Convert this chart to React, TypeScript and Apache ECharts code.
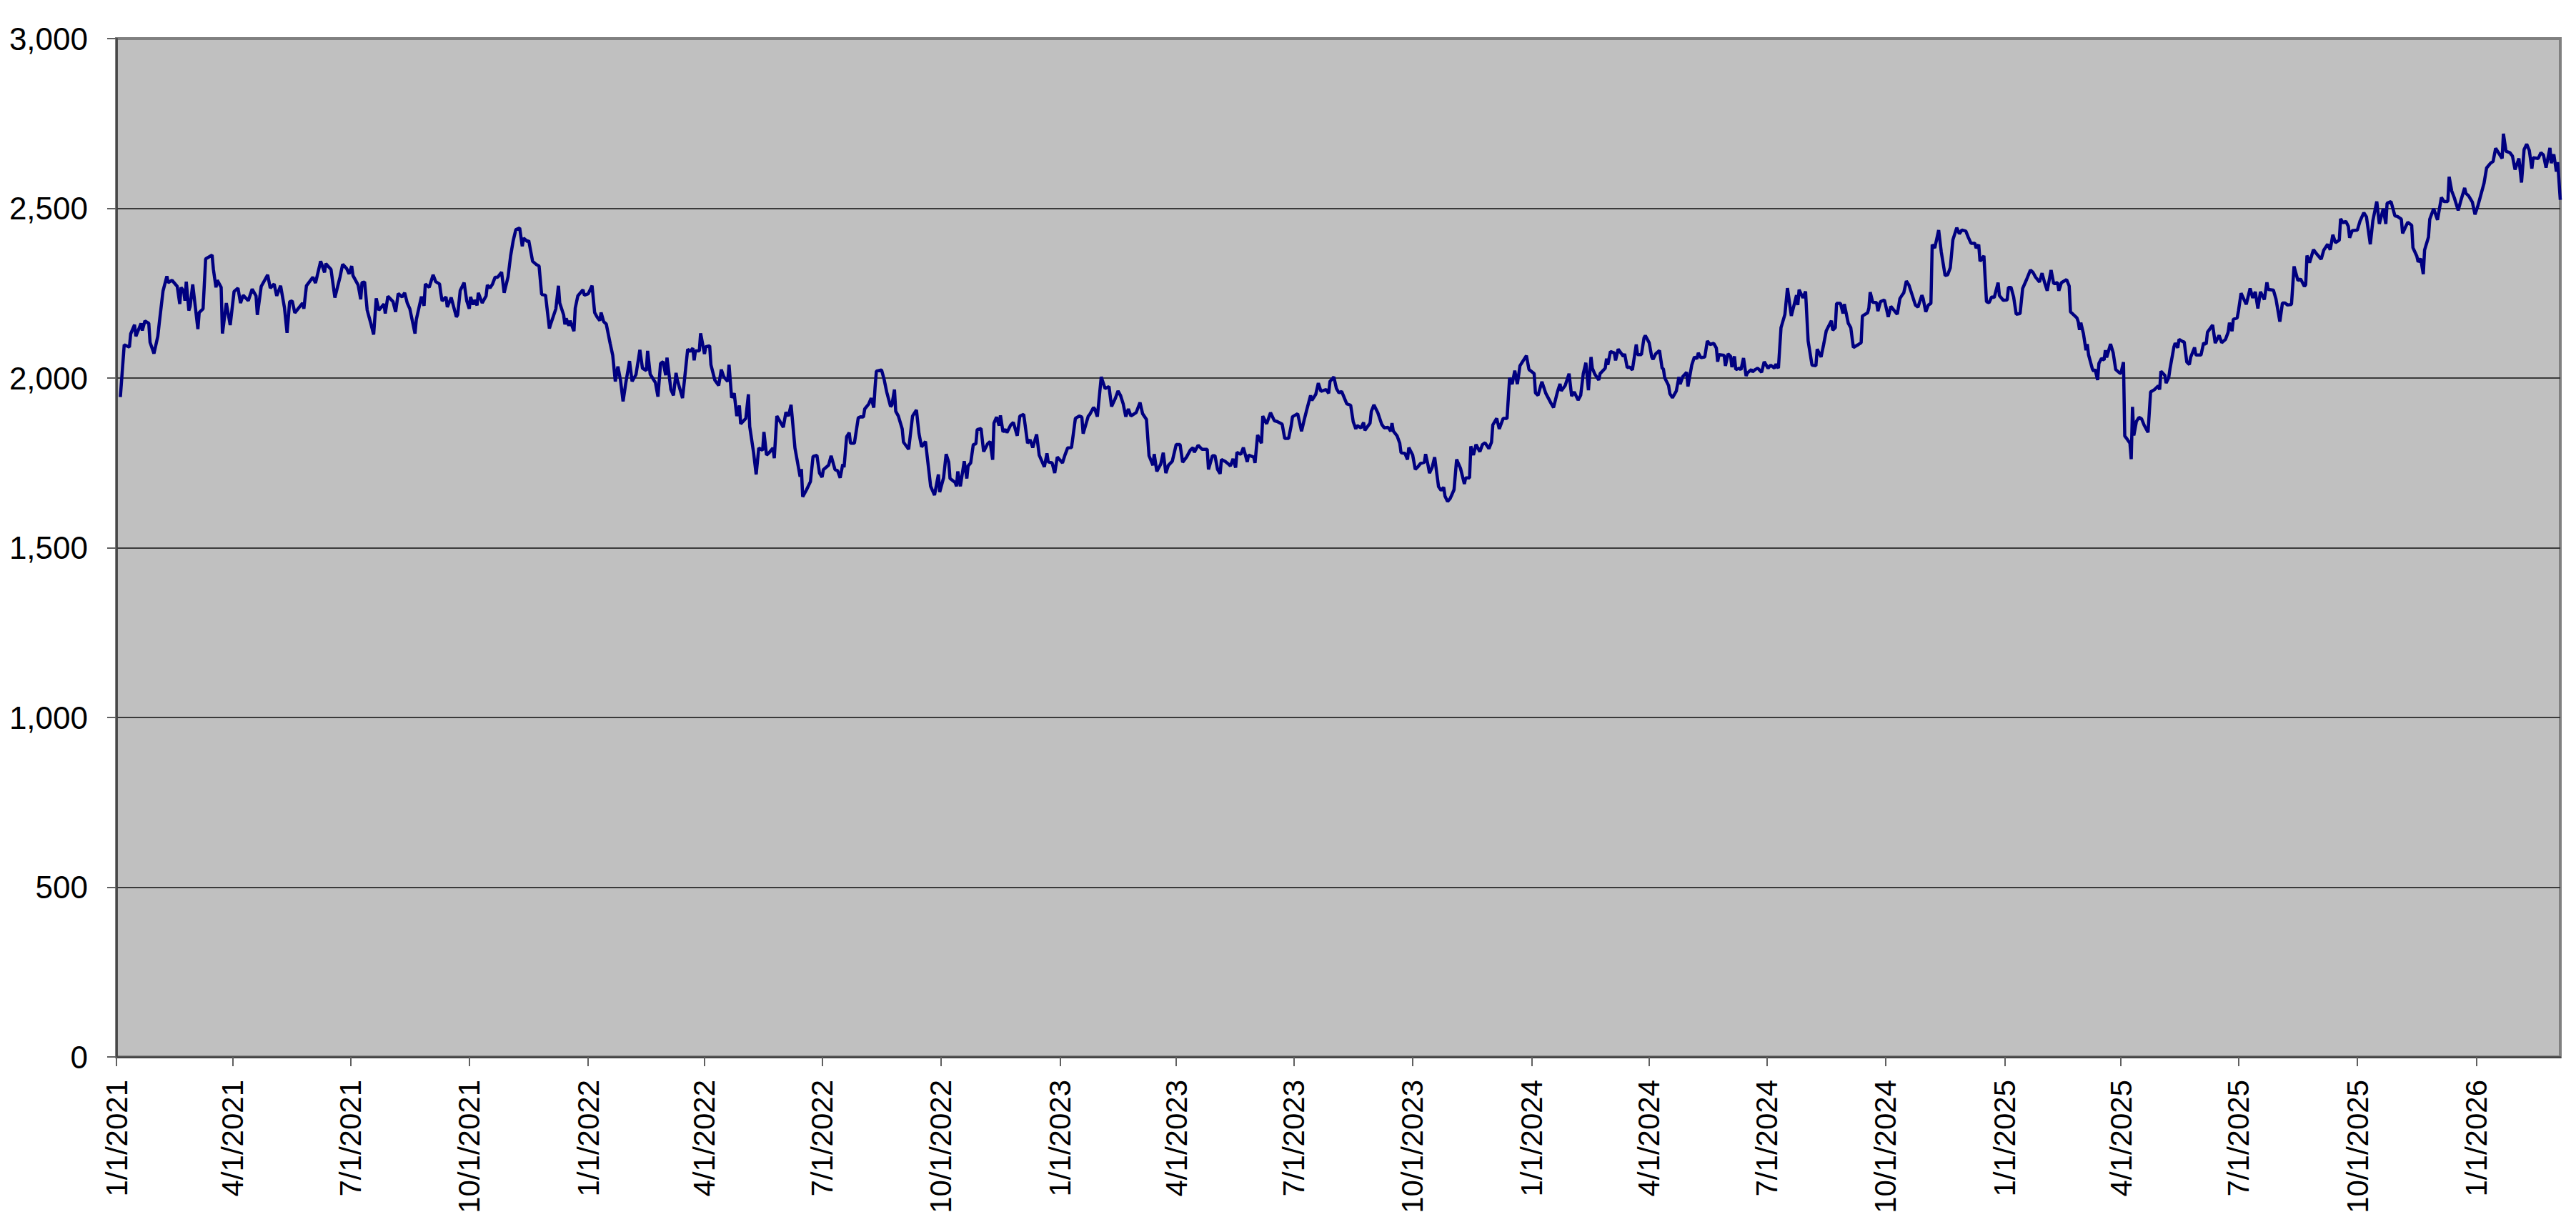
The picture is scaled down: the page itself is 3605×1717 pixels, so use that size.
import React, { useEffect, useRef } from "react";
import * as echarts from "echarts";

// Dates are day offsets from START_DATE.
const START_DATE = "2021-01-01";

const points2021: [number, number][] = [
  [3,1944],[6,2098],[10,2091],[11,2130],[14,2157],[15,2123],[19,2161],[20,2140],[22,2168],[25,2161],[26,2105],[29,2072],[32,2123],[33,2158],[36,2256],[39,2300],[40,2281],[43,2288],[47,2270],[49,2218],[50,2267],[52,2256],[53,2228],[54,2284],[56,2199],[57,2211],[59,2276],[63,2144],[64,2193],[67,2204],[69,2351],[74,2362],[75,2320],[77,2267],[78,2288],[81,2267],[82,2131],[85,2221],[88,2156],[91,2255],[94,2265],[96,2221],[98,2244],[102,2228],[105,2262],[108,2242],[109,2186],[112,2270],[117,2304],[119,2265],[122,2277],[124,2242],[127,2272],[130,2207],[132,2133],[134,2225],[136,2227],[138,2192],[144,2221],[145,2204],[147,2272],[152,2297],[154,2280],[158,2344],[161,2311],[162,2337],[166,2320],[169,2237],[173,2298],[175,2335],[178,2323],[180,2307],[182,2330],[183,2302],[187,2274],[189,2232],[190,2281],[192,2283],[194,2200],[197,2158],[199,2128],[201,2235],[203,2200],[207,2218],[208,2190],[210,2241],[214,2225],[216,2195],[218,2249],[221,2239],[223,2251],[225,2221],[227,2204],[231,2131],[232,2172],[236,2240],[238,2213],[239,2277],[242,2267],[245,2304],[247,2284],[250,2277],[251,2249],[252,2227],[255,2239],[256,2209],[259,2237],[263,2180],[264,2186],[266,2258],[269,2281],[271,2228],[273,2204],[274,2239],[276,2216],[277,2230],[279,2214],[280,2251],[283,2221],[286,2242],[287,2274],[289,2265],[291,2277],[293,2297],[295,2297],[298,2312],[300,2251],[303,2298],[305,2360],[307,2405],[309,2437],[312,2442],[314,2388],[315,2412],[318,2402],[319,2405],[322,2344],[325,2334],[327,2330],[329,2246],[332,2244],[335,2146],[336,2159],[340,2204],[342,2272],[343,2221],[346,2186],[347,2158],[348,2176],[350,2154],[351,2169],[354,2138],[355,2206],[357,2242],[361,2260],[362,2244]
];

const points2022: [number, number][] = [
  [365,2248],[368,2272],[370,2193],[372,2179],[374,2169],[375,2193],[377,2166],[379,2159],[382,2102],[384,2067],[386,1990],[388,2034],[390,1994],[392,1931],[394,1983],[397,2050],[399,1990],[402,2010],[405,2083],[407,2029],[410,2022],[411,2080],[413,2011],[417,1987],[419,1945],[421,2043],[423,2048],[425,2008],[426,2060],[429,1966],[431,1949],[433,2015],[434,1994],[438,1941],[439,1976],[442,2085],[444,2078],[446,2088],[447,2052],[448,2080],[451,2080],[452,2132],[455,2071],[456,2092],[459,2095],[460,2039],[463,1994],[466,1978],[468,2025],[470,2003],[473,1990],[474,2039],[476,1942],[478,1955],[480,1888],[482,1919],[483,1865],[487,1881],[489,1952],[490,1857],[493,1780],[495,1716],[497,1794],[500,1787],[501,1841],[503,1773],[505,1780],[508,1794],[509,1764],[511,1888],[516,1855],[518,1899],[520,1888],[522,1921],[525,1794],[529,1709],[530,1732],[531,1650],[534,1671],[537,1695],[539,1769],[542,1772],[544,1720],[546,1708],[547,1730],[551,1743],[553,1771],[556,1730],[558,1727],[560,1706],[562,1746],[563,1737],[565,1827],[567,1839],[568,1808],[571,1808],[574,1883],[576,1886],[578,1885],[579,1909],[582,1923],[584,1941],[586,1913],[587,1973],[588,2020],[592,2024],[594,1996],[596,1959],[599,1916],[600,1920],[602,1966],[603,1902],[605,1888],[608,1850],[609,1811],[613,1790],[616,1888],[619,1906],[621,1836],[623,1797],[626,1813],[630,1681],[633,1655],[636,1716],[637,1664],[640,1706],[642,1776],[644,1752],[645,1704],[649,1692],[650,1681],[651,1725],[653,1681],[656,1755],[658,1704],[659,1741],[661,1750],[663,1804],[665,1806],[666,1848],[669,1851],[671,1783],[674,1806],[676,1813],[678,1759],[679,1867],[681,1885],[683,1860],[684,1890],[686,1841],[688,1849],[689,1839],[692,1862],[694,1869],[697,1830],[699,1888],[702,1893],[705,1808],[707,1818],[709,1795],[712,1834],[714,1773],[718,1738],[720,1778],[721,1753],[724,1750],[726,1720]
];

const points2023: [number, number][] = [
  [728,1767],[730,1759],[732,1750],[734,1774],[736,1794],[739,1795],[742,1881],[745,1888],[747,1885],[748,1836],[752,1888],[753,1892],[756,1913],[757,1909],[759,1886],[762,2003],[765,1969],[768,1975],[770,1916],[773,1941],[775,1962],[777,1948],[779,1924],[781,1886],[783,1909],[785,1888],[789,1898],[792,1928],[794,1895],[797,1878],[799,1771],[802,1743],[803,1776],[805,1725],[808,1746],[810,1780],[812,1720],[814,1743],[817,1755],[820,1804],[823,1804],[825,1752],[828,1767],[831,1788],[833,1795],[834,1781],[837,1802],[840,1790],[844,1790],[845,1731],[848,1771],[850,1771],[852,1731],[854,1718],[855,1760],[858,1754],[860,1748],[862,1741],[864,1762],[866,1736],[867,1781],[870,1775],[872,1795],[875,1753],[876,1773],[880,1767],[881,1750],[883,1832],[886,1808],[887,1888],[890,1865],[893,1898],[896,1874],[898,1872],[902,1864],[904,1822],[907,1822],[909,1860],[910,1886],[914,1895],[917,1843],[919,1876],[921,1906],[924,1949],[925,1934],[928,1952],[930,1985],[932,1961],[936,1966],[938,1955],[939,1990],[942,2003],[944,1969],[946,1956],[948,1961],[952,1924],[955,1920],[957,1871],[959,1850],[960,1860],[963,1853],[965,1869],[966,1846],[970,1867],[971,1902],[973,1921],[976,1898],[979,1864],[981,1853],[984,1855],[986,1843],[987,1867],[988,1844],[991,1829],[993,1808],[994,1780],[997,1778],[999,1760],[1000,1795],[1003,1773],[1005,1731],[1007,1738],[1009,1748],[1012,1752],[1013,1776],[1015,1741],[1016,1720],[1018,1736],[1020,1767],[1023,1680],[1025,1669],[1027,1678],[1028,1652],[1030,1636],[1032,1645],[1035,1671],[1037,1760],[1040,1734],[1043,1688],[1044,1706],[1047,1706],[1048,1799],[1050,1773],[1052,1804],[1055,1783],[1057,1804],[1059,1809],[1062,1792],[1064,1811],[1065,1862],[1068,1881],[1070,1850],[1073,1881],[1076,1881],[1078,2001],[1080,1982],[1082,2022],[1084,1982],[1086,2036],[1091,2066],[1093,2025]
];

const points2024: [number, number][] = [
  [1097,2013],[1098,1956],[1100,1949],[1103,1989],[1106,1955],[1110,1926],[1112,1913],[1115,1959],[1117,1983],[1118,1962],[1121,1978],[1124,2013],[1126,1947],[1128,1959],[1131,1935],[1133,1949],[1135,2013],[1137,2045],[1139,1964],[1141,2062],[1142,2029],[1144,2011],[1147,1994],[1148,2013],[1152,2029],[1153,2057],[1154,2039],[1156,2078],[1159,2074],[1160,2052],[1162,2085],[1166,2064],[1167,2071],[1169,2031],[1171,2032],[1173,2024],[1176,2099],[1177,2069],[1180,2069],[1182,2118],[1183,2125],[1186,2104],[1188,2062],[1189,2055],[1191,2071],[1194,2081],[1196,2029],[1197,2027],[1198,2001],[1201,1978],[1202,1954],[1204,1942],[1207,1962],[1209,2003],[1210,1982],[1212,2004],[1215,2017],[1216,1975],[1219,2039],[1221,2062],[1223,2057],[1224,2074],[1226,2060],[1229,2062],[1231,2109],[1233,2099],[1236,2102],[1238,2088],[1239,2048],[1240,2069],[1244,2067],[1245,2036],[1247,2071],[1249,2064],[1250,2032],[1252,2064],[1253,2025],[1256,2029],[1257,2024],[1259,2059],[1261,2006],[1262,2015],[1265,2025],[1266,2018],[1268,2025],[1270,2029],[1273,2017],[1275,2048],[1278,2029],[1280,2038],[1283,2029],[1284,2041],[1286,2029],[1288,2148],[1291,2187],[1293,2265],[1296,2183],[1300,2244],[1301,2215],[1302,2260],[1305,2236],[1307,2255],[1309,2109],[1312,2038],[1315,2036],[1316,2085],[1319,2062],[1321,2099],[1323,2139],[1327,2169],[1328,2141],[1330,2148],[1331,2220],[1334,2220],[1336,2190],[1337,2218],[1340,2162],[1342,2148],[1344,2090],[1348,2099],[1350,2104],[1351,2183],[1355,2192],[1356,2206],[1357,2253],[1359,2223],[1362,2222],[1363,2197],[1365,2225],[1368,2230],[1370,2197],[1371,2180],[1373,2211],[1376,2197],[1378,2188],[1380,2234],[1382,2246],[1383,2251],[1385,2286],[1387,2274],[1392,2215],[1394,2209],[1397,2244],[1398,2234],[1400,2195],[1402,2215],[1404,2220],[1405,2393],[1407,2383],[1410,2436],[1412,2372],[1415,2302],[1417,2304],[1419,2325],[1421,2407],[1424,2443],[1426,2425],[1428,2436],[1431,2433],[1433,2414],[1435,2397],[1438,2397],[1439,2383],[1441,2393],[1442,2344],[1445,2360],[1447,2225],[1449,2222],[1451,2239],[1453,2237],[1456,2281],[1457,2243],[1460,2229]
];

const points2025: [number, number][] = [
  [1463,2230],[1464,2267],[1466,2267],[1468,2239],[1470,2188],[1473,2190],[1475,2264],[1478,2290],[1481,2318],[1483,2311],[1485,2297],[1488,2283],[1490,2309],[1492,2281],[1494,2257],[1497,2318],[1499,2278],[1502,2281],[1503,2257],[1505,2281],[1509,2290],[1511,2271],[1512,2195],[1517,2177],[1518,2166],[1519,2142],[1520,2163],[1522,2131],[1524,2082],[1525,2100],[1526,2068],[1529,2026],[1530,2020],[1531,2026],[1533,1994],[1534,2043],[1536,2058],[1538,2053],[1539,2082],[1540,2061],[1543,2100],[1545,2075],[1547,2025],[1550,2015],[1551,2013],[1553,2047],[1554,1829],[1556,1819],[1558,1808],[1559,1761],[1560,1915],[1561,1831],[1563,1872],[1565,1884],[1567,1880],[1569,1861],[1572,1840],[1574,1959],[1577,1966],[1580,1977],[1581,1966],[1582,2020],[1585,2008],[1586,1985],[1588,2001],[1589,2027],[1592,2091],[1593,2103],[1595,2089],[1596,2114],[1599,2107],[1600,2107],[1602,2047],[1604,2040],[1605,2061],[1608,2090],[1609,2068],[1613,2068],[1615,2103],[1617,2100],[1618,2135],[1622,2156],[1624,2103],[1627,2126],[1629,2104],[1632,2114],[1634,2135],[1635,2163],[1637,2138],[1638,2173],[1641,2177],[1642,2198],[1644,2250],[1648,2217],[1651,2264],[1653,2236],[1655,2254],[1657,2205],[1659,2254],[1662,2231],[1664,2282],[1665,2261],[1669,2259],[1671,2233],[1674,2166],[1676,2221],[1678,2221],[1680,2215],[1683,2217],[1685,2329],[1688,2287],[1690,2292],[1693,2270],[1694,2275],[1695,2361],[1697,2340],[1700,2378],[1702,2368],[1706,2350],[1708,2377],[1711,2394],[1713,2378],[1715,2422],[1717,2399],[1720,2406],[1721,2469],[1723,2457],[1725,2462],[1727,2447],[1728,2413],[1730,2434],[1734,2436],[1736,2462],[1739,2487],[1741,2475],[1744,2394],[1746,2464],[1749,2520],[1751,2454],[1754,2499],[1756,2454],[1757,2515],[1760,2520],[1763,2478],[1765,2476],[1768,2468],[1769,2426],[1771,2443],[1773,2459],[1776,2450],[1777,2384],[1780,2359],[1781,2342],[1783,2352],[1785,2306],[1786,2377],[1789,2415],[1790,2468],[1793,2499],[1796,2466],[1799,2532],[1801,2520],[1804,2520],[1805,2593],[1807,2551],[1809,2531],[1812,2494],[1814,2522],[1817,2560],[1818,2544],[1820,2537],[1823,2518],[1825,2482]
];

const points2026: [number, number][] = [
  [1827,2504],[1830,2546],[1832,2574],[1834,2619],[1837,2633],[1839,2638],[1841,2677],[1846,2647],[1847,2720],[1849,2668],[1852,2664],[1854,2654],[1856,2614],[1859,2647],[1861,2576],[1863,2673],[1865,2689],[1867,2671],[1869,2617],[1870,2649],[1874,2647],[1876,2664],[1878,2657],[1880,2620],[1883,2678],[1884,2633],[1886,2659],[1888,2608],[1889,2636],[1891,2525]
];

const tickLabels = [
  "1/1/2021","4/1/2021","7/1/2021","10/1/2021",
  "1/1/2022","4/1/2022","7/1/2022","10/1/2022",
  "1/1/2023","4/1/2023","7/1/2023","10/1/2023",
  "1/1/2024","4/1/2024","7/1/2024","10/1/2024",
  "1/1/2025","4/1/2025","7/1/2025","10/1/2025",
  "1/1/2026",
];

const yTicks = [0, 500, 1000, 1500, 2000, 2500, 3000];

const DAY = 86400000;

function parseMDY(s: string): number {
  const [m, d, y] = s.split("/").map(Number);
  return Date.UTC(y, m - 1, d);
}

export default function App() {
  const ref = useRef<HTMLDivElement>(null);

  useEffect(() => {
    document.body.style.margin = "0";
    if (!ref.current) return;
    const chart = echarts.init(ref.current, undefined, { renderer: "svg" });

    const start = Date.parse(START_DATE + "T00:00:00Z");
    const all = [...points2021, ...points2022, ...points2023, ...points2024, ...points2025, ...points2026];
    const data = all.map(([d, v]) => [start + d * DAY, v]);
    const tickValues = tickLabels.map(parseMDY);
    const xMax = data[data.length - 1][0];

    const fmtDate = (val: number) => {
      let best = 0;
      let bestDiff = Infinity;
      tickValues.forEach((t, i) => {
        const diff = Math.abs(t - val);
        if (diff < bestDiff) {
          bestDiff = diff;
          best = i;
        }
      });
      if (bestDiff < DAY / 2) return tickLabels[best];
      const dt = new Date(val);
      return `${dt.getUTCMonth() + 1}/${dt.getUTCDate()}/${dt.getUTCFullYear()}`;
    };

    const font = "'Liberation Sans', Arial, sans-serif";

    chart.setOption({
      animation: false,
      grid: {
        left: 163,
        right: 22,
        top: 54,
        bottom: 238,
        show: true,
        backgroundColor: "#c0c0c0",
        borderColor: "#808080",
        borderWidth: 4,
      },
      xAxis: {
        type: "value",
        min: start,
        max: xMax,
        scale: true,
        axisLine: { show: true, lineStyle: { color: "#404040", width: 2.5 } },
        axisTick: {
          show: true,
          length: 13,
          customValues: tickValues,
          lineStyle: { color: "#606060", width: 2 },
        },
        splitLine: { show: false },
        axisLabel: {
          customValues: tickValues,
          rotate: 90,
          margin: 32,
          fontSize: 42,
          fontFamily: font,
          color: "#000",
          showMinLabel: true,
          showMaxLabel: true,
          hideOverlap: false,
          formatter: (val: number) => fmtDate(val),
        },
      },
      yAxis: {
        type: "value",
        min: yTicks[0],
        max: yTicks[yTicks.length - 1],
        interval: yTicks[1] - yTicks[0],
        axisLine: { show: true, lineStyle: { color: "#404040", width: 2.5 } },
        axisTick: { show: true, length: 13, lineStyle: { color: "#606060", width: 2 } },
        splitLine: {
          show: true,
          showMinLine: false,
          showMaxLine: false,
          lineStyle: { color: "#3a3a3a", width: 1.8 },
        },
        axisLabel: {
          margin: 40,
          fontSize: 44,
          fontFamily: font,
          color: "#000",
          formatter: (v: number) => v.toLocaleString("en-US"),
        },
      },
      series: [
        {
          type: "line",
          data,
          showSymbol: false,
          symbol: "none",
          lineStyle: { color: "#000080", width: 4.5 },
          itemStyle: { color: "#000080" },
        },
      ],
    });

    return () => chart.dispose();
  }, []);

  return <div ref={ref} style={{ width: 3605, height: 1717 }} />;
}
